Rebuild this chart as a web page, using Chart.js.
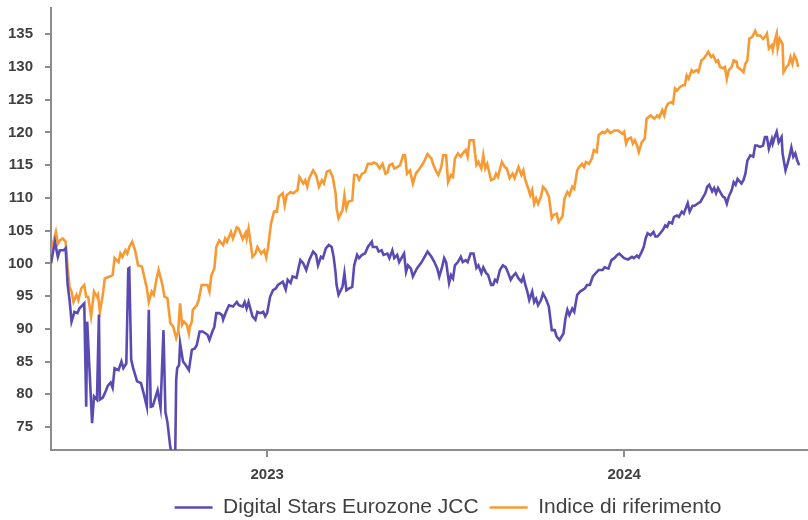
<!DOCTYPE html>
<html>
<head>
<meta charset="utf-8">
<script src="https://cdn.jsdelivr.net/npm/chart.js@4.4.1/dist/chart.umd.min.js"></script>
<style>
  html, body { margin: 0; padding: 0; background: #fff; }
  #wrap { width: 808px; height: 520px; }
</style>
</head>
<body>
<div id="wrap"><canvas id="chart" width="808" height="520"></canvas></div>
<script>
// giorni dal 25/05/2022 (base 100)
const startDate = Date.UTC(2022, 4, 25);
const DAY = 86400000;

const seriesNames = ['Digital Stars Eurozone JCC', 'Indice di riferimento'];
const yTicks = [75, 80, 85, 90, 95, 100, 105, 110, 115, 120, 125, 130, 135];
const yearTicks = ['2023-01-01', '2024-01-01'];

const fundDays = [
  0, 4, 7, 9, 13, 15, 17, 19, 21, 24, 27, 29, 32, 34, 36, 37, 42, 44, 47, 49,
  50, 53, 56, 58, 61, 63, 65, 69, 72, 74, 77, 79, 80, 82, 84, 88, 92, 95, 98, 100,
  102, 104, 109, 112, 115, 117, 119, 122, 124, 127, 128, 129, 131, 132, 135, 138, 141, 144, 147, 149,
  152, 155, 160, 162, 165, 167, 169, 172, 175, 176, 179, 182, 186, 190, 192, 196, 198, 200, 202, 206,
  209, 211, 214, 217, 219, 221, 224, 227, 230, 232, 235, 237, 240, 242, 245, 247, 251, 253, 255, 258,
  261, 264, 268, 271, 273, 276, 278, 281, 284, 287, 289, 291, 292, 294, 298, 300, 302, 304, 308, 310,
  313, 315, 318, 321, 324, 328, 329, 333, 335, 338, 340, 344, 346, 349, 351, 354, 356, 359, 361, 363,
  365, 368, 370, 374, 379, 382, 385, 389, 392, 395, 397, 400, 402, 404, 407, 409, 411, 413, 416, 419,
  421, 424, 426, 429, 432, 435, 437, 440, 442, 445, 447, 450, 452, 454, 456, 459, 462, 465, 467, 470,
  472, 475, 478, 481, 483, 485, 487, 489, 492, 494, 496, 498, 501, 503, 506, 509, 512, 515, 517, 520,
  524, 526, 528, 530, 533, 535, 538, 541, 544, 546, 548, 551, 554, 557, 560, 564, 566, 570, 573, 576,
  579, 581, 586, 590, 594, 596, 599, 601, 604, 606, 608, 610, 613, 616, 618, 620, 623, 626, 628, 630,
  632, 635, 637, 640, 642, 645, 647, 649, 651, 653, 656, 658, 661, 664, 667, 669, 671, 673, 676, 678,
  680, 682, 685, 687, 689, 691, 693, 696, 698, 700, 702, 706, 708, 710, 712, 715, 718, 720, 722, 725,
  728, 730, 732, 734, 737, 738, 740, 742, 744, 747, 748, 751, 753, 755, 757, 759, 761, 763, 765
];
const fundValues = [
  100, 103.3, 101, 102, 102, 102.3, 96.7, 94.4, 91.1, 92.6, 92.4, 93.1, 93.6, 93.9, 78.1, 91.1, 75.6, 79.7, 79.2, 92.2,
  79.2, 79.5, 80.5, 81.3, 81.8, 81, 84, 83.7, 85, 84, 84.7, 99.2, 99.3, 85.3, 84, 82, 81.7, 80, 78.1, 92.9,
  78.1, 78.2, 80.6, 78, 89.8, 77.3, 75.8, 71.9, 70.5, 70.5, 82.2, 84, 84.5, 87.8, 85, 84.4, 83.7, 86.8, 87, 87.5,
  89.6, 89.6, 89.1, 88.3, 89.6, 90.3, 92.4, 92.4, 92.1, 91.4, 92.6, 93.6, 93.4, 94.1, 93.6, 93.4, 94.1, 93.1, 94.1, 91.9,
  91.4, 92.6, 92.4, 92.6, 91.9, 92.4, 94.9, 95.9, 96.2, 96.7, 97, 97.2, 96, 97.5, 97, 98, 97.8, 99.2, 100.5, 100,
  99, 100.5, 101.8, 101.3, 99.7, 101, 100.8, 102.3, 102.8, 102.5, 101, 98.5, 96.7, 95.2, 96.4, 98.5, 95.9, 96.1, 96.4, 99.7,
  101.3, 100.8, 101.3, 101.5, 102.5, 103.3, 102.5, 102.5, 101.8, 102, 101.3, 101.5, 100.8, 102, 100.8, 101.3, 100.2, 101, 101.5, 98.7,
  99.7, 99.2, 98, 99.2, 100.2, 101, 101.8, 101, 100.2, 99.2, 98, 99.5, 100.8, 100.2, 97, 98.2, 97.7, 99.7, 100.2, 101,
  100.2, 100.5, 100.2, 101.5, 101.5, 99.3, 99.7, 98.5, 99.4, 98.5, 98.2, 96.7, 96.7, 97.5, 97.2, 99, 99.7, 99.4, 98.7, 97.5,
  98, 98.5, 97.7, 97.2, 98, 96.7, 95.7, 94.4, 95.7, 94.1, 94.6, 93.6, 94.4, 95.4, 94.6, 93.4, 89.8, 89.8, 88.8, 88.3,
  89.3, 91.6, 92.9, 92.1, 93.1, 92.6, 95.2, 95.7, 96, 96.2, 96.7, 96.7, 98, 98.5, 99, 99, 99.4, 99.2, 100.5, 100.8,
  101.3, 101.5, 100.8, 100.6, 101, 100.8, 101.2, 100.9, 101.8, 102.5, 103.8, 104.6, 104.3, 104.8, 104.1, 104.1, 104.6, 105.2, 105.8, 105.6,
  106.3, 106.1, 107.1, 107.3, 107.1, 107.9, 107.6, 108.4, 109.2, 107.9, 108.8, 108.8, 109.1, 109.4, 110.2, 110.7, 111.7, 112, 111, 111.5,
  110.7, 111.5, 110.7, 110.2, 110, 109.1, 110.2, 111.2, 112.4, 112, 112.9, 112.2, 112.7, 113.7, 115.7, 116.5, 116.3, 118, 118, 117.8,
  118, 119.3, 119.3, 117.5, 119, 118.3, 119.3, 120.1, 118.5, 119.3, 116.8, 114.2, 115.2, 116.3, 117.7, 116.3, 116.8, 115.7, 115
];

const benchDays = [
  0, 2, 5, 7, 9, 12, 15, 17, 19, 21, 23, 26, 28, 31, 34, 36, 38, 41, 44, 47,
  48, 50, 53, 55, 60, 63, 65, 69, 71, 73, 76, 78, 80, 83, 86, 89, 93, 96, 98, 100,
  103, 105, 108, 110, 114, 116, 119, 122, 125, 128, 130, 132, 134, 136, 139, 141, 142, 144, 145, 149,
  151, 154, 160, 162, 164, 167, 169, 172, 176, 178, 180, 184, 186, 190, 192, 196, 199, 200, 202, 206,
  209, 211, 215, 218, 220, 222, 225, 228, 231, 233, 237, 239, 241, 245, 248, 252, 254, 258, 260, 262,
  264, 268, 271, 274, 277, 279, 282, 285, 288, 291, 292, 294, 298, 300, 302, 304, 308, 310, 313, 315,
  318, 321, 324, 328, 330, 333, 336, 339, 342, 344, 346, 349, 351, 354, 357, 360, 362, 364, 367, 370,
  373, 377, 381, 385, 389, 391, 394, 396, 399, 401, 404, 406, 409, 411, 413, 416, 419, 421, 424, 426,
  428, 432, 435, 437, 440, 442, 444, 446, 450, 453, 455, 457, 461, 464, 466, 469, 472, 474, 478, 481,
  483, 485, 488, 490, 492, 494, 496, 498, 501, 503, 506, 509, 512, 514, 517, 519, 523, 525, 528, 530,
  533, 535, 538, 540, 543, 545, 547, 550, 553, 555, 558, 560, 564, 566, 569, 572, 576, 580, 584, 586,
  588, 590, 593, 595, 597, 599, 601, 604, 607, 609, 613, 617, 620, 622, 625, 627, 629, 631, 634, 636,
  638, 640, 643, 646, 648, 650, 652, 655, 657, 660, 662, 665, 667, 670, 672, 675, 677, 680, 682, 684,
  687, 689, 691, 693, 696, 698, 701, 702, 706, 708, 710, 712, 714, 717, 720, 722, 725, 728, 730, 732,
  734, 737, 738, 740, 742, 743, 745, 748, 749, 752, 754, 756, 758, 760, 762, 764
];
const benchValues = [
  100, 103, 104.8, 103, 103.5, 103.8, 103.3, 99.2, 96.4, 95.7, 94.1, 95.2, 94.4, 96.2, 96.7, 94.9, 94.9, 91.9, 95.7, 94.9,
  95.2, 92.6, 95.2, 97.7, 98, 98.2, 100.8, 100.2, 101.5, 101, 102, 101.5, 102.5, 103.3, 102, 99.7, 99.5, 97.5, 96.2, 94.1,
  95.7, 95.2, 97.7, 99, 96.7, 94.9, 94.7, 90.9, 90.3, 88.6, 89.6, 93.9, 90.6, 91.1, 90.6, 89.3, 90.3, 91.1, 92.9, 93.6,
  94.4, 96.7, 96.7, 95.7, 98.2, 99.2, 102.5, 103.5, 102.8, 103.8, 103.3, 104.8, 103.8, 105.5, 105.3, 103.7, 104.7, 103.8, 105.3, 101,
  101.5, 102.5, 101.5, 102, 100.9, 102.5, 106.1, 107.9, 107.9, 110.2, 110.7, 108.9, 110.4, 110.9, 110.7, 111.2, 113.2, 112.2, 112.7, 111.7,
  113, 114.2, 113.5, 111.7, 112.7, 112.2, 114, 114.2, 113.2, 110.7, 108.4, 106.9, 108.1, 110.4, 108.4, 109.4, 109.6, 113.5, 113.5, 112.8,
  113.7, 113.9, 115.2, 115.2, 115.4, 115.2, 114.5, 115.2, 113.7, 113.9, 115, 115.2, 114.5, 114.7, 115, 116.5, 116.5, 113.7, 114.2, 112.2,
  113.7, 114.5, 115.4, 116.7, 116, 115, 114, 113.5, 114.7, 116.5, 116.5, 112.4, 113.5, 113.2, 116, 116.8, 116.3, 116.8, 117.3, 116.3,
  118.8, 118.8, 115, 115.5, 114.5, 116.5, 114.5, 115.2, 112.7, 112.9, 113.7, 113.2, 115.5, 114.7, 114.5, 113, 113.7, 113, 114.7, 113.5,
  114.2, 112.7, 111.4, 110.4, 111.2, 109.1, 109.9, 109.1, 110.2, 111.7, 111.2, 110.2, 106.9, 107.4, 107.6, 106.3, 107.2, 109.9, 110.9, 110.4,
  111.7, 111.4, 114.2, 114.7, 115.2, 114.7, 115.5, 115.2, 116, 117.3, 117, 119.6, 120.1, 119.9, 120.4, 119.9, 120.3, 120.3, 119.8, 120.1,
  118.3, 119, 119.2, 118.3, 118.8, 118.1, 117, 118.5, 119, 122.1, 122.6, 122.1, 122.6, 122.3, 123.4, 122.6, 123.9, 124.4, 124.6, 124.4,
  126.7, 126.4, 126.9, 127.2, 127.2, 128.7, 128.2, 129.5, 129.2, 129.5, 129.2, 131, 131.2, 131.8, 132.3, 131.5, 131.8, 130.8, 131, 130,
  129.8, 130, 128.2, 129.5, 130, 131, 130.8, 130, 129.5, 129.2, 130.5, 131, 134.3, 134.6, 135.5, 134.8, 134.8, 134.3, 134.6, 135.1,
  132.8, 133.3, 132.6, 134, 135.1, 132.8, 134.3, 133.5, 129.2, 130, 130.3, 131.5, 130.5, 131.8, 131.2, 130
];

const toPoints = (days, values) => days.map((d, i) => ({ x: startDate + d * DAY, y: values[i] }));

const axisGray = '#8c8c8c';
const textGray = '#404040';
const fontFamily = 'Arial, "Liberation Sans", sans-serif';

// la legenda nell'originale non e' centrata sulla tela: la spostiamo a destra
const legendShift = {
  id: 'legendShift',
  afterLayout(chart) {
    if (chart.legend) {
      chart.legend.left += 44;
      chart.legend.right += 44;
    }
  }
};

new Chart(document.getElementById('chart'), {
  type: 'line',
  data: {
    datasets: [
      {
        label: seriesNames[0],
        data: toPoints(fundDays, fundValues),
        borderColor: '#5a4bb2',
        backgroundColor: '#5a4bb2',
        borderWidth: 2.6,
        pointRadius: 0,
        tension: 0
      },
      {
        label: seriesNames[1],
        data: toPoints(benchDays, benchValues),
        borderColor: '#f79a33',
        backgroundColor: '#f79a33',
        borderWidth: 2.6,
        pointRadius: 0,
        tension: 0
      }
    ]
  },
  plugins: [legendShift],
  options: {
    responsive: false,
    animation: false,
    layout: { padding: { top: 8, right: 0, left: 0, bottom: 0 } },
    plugins: {
      tooltip: { enabled: false },
      legend: {
        position: 'bottom',
        maxHeight: 34,
        labels: {
          usePointStyle: true,
          pointStyle: 'line',
          pointStyleWidth: 38,
          padding: 11,
          color: textGray,
          font: { family: fontFamily, size: 21 }
        }
      }
    },
    scales: {
      x: {
        type: 'linear',
        min: startDate,
        max: startDate + 774 * DAY,
        afterBuildTicks: s => { s.ticks = yearTicks.map(t => ({ value: Date.parse(t) })); },
        afterFit: s => { s.height = 36; },
        grid: { drawOnChartArea: false, color: axisGray, tickLength: 7, lineWidth: 2 },
        border: { color: axisGray, width: 2 },
        ticks: {
          color: textGray,
          font: { family: fontFamily, size: 15, weight: 'bold' },
          padding: 9,
          maxRotation: 0,
          callback: v => new Date(v).getUTCFullYear()
        }
      },
      y: {
        min: 71.5,
        max: 139,
        afterBuildTicks: s => { s.ticks = yTicks.map(v => ({ value: v })); },
        afterFit: s => { s.width = 51; s.paddingTop = 0; s.paddingBottom = 0; },
        grid: { drawOnChartArea: false, color: axisGray, tickLength: 6, lineWidth: 2 },
        border: { color: axisGray, width: 2 },
        ticks: {
          color: textGray,
          font: { family: fontFamily, size: 15, weight: 'bold' },
          padding: 12
        }
      }
    }
  }
});
</script>
</body>
</html>
